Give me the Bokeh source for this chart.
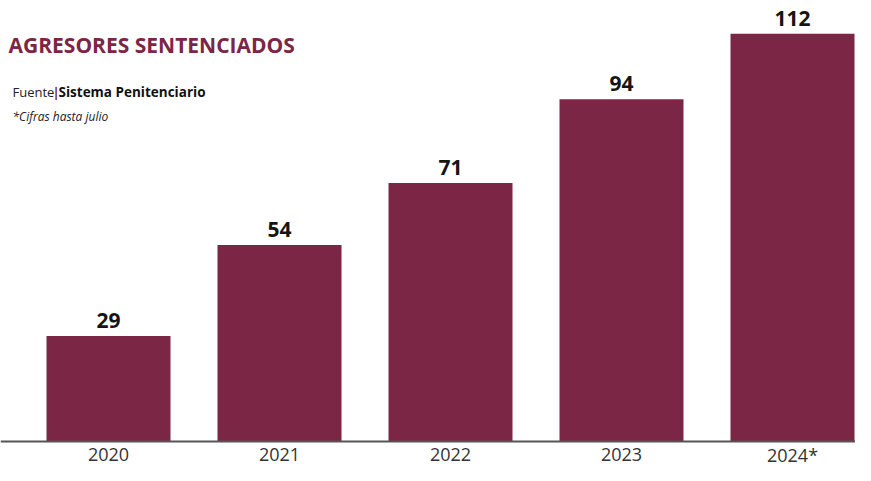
from bokeh.plotting import figure
from bokeh.models import ColumnDataSource, Label, Span, Range1d
from bokeh.embed import file_html
from bokeh.resources import INLINE
from bokeh.core.properties import value

years = ["2020", "2021", "2022", "2023", "2024*"]
counts = [29, 54, 71, 94, 112]
title_text = "AGRESORES SENTENCIADOS"
source_label = "Fuente"
source_name = "Sistema Penitenciario"
note_text = "*Cifras hasta julio"

W, H = 855, 465
step = 171.0          # px per category
first_center = 108.0  # px
baseline_px = 441.0   # px from top
ppu = 3.64            # px per unit

x0 = -first_center / step
x1 = (W - first_center) / step
y1 = baseline_px / ppu
y0 = -(H - baseline_px) / ppu

MAROON = "#7b2644"

xs = list(range(len(years)))
src = ColumnDataSource(dict(x=xs, top=counts, lbl=[str(c) for c in counts],
                            yr=years, zero=[0] * len(years)))

p = figure(width=W, height=H, output_backend="svg", toolbar_location=None,
           x_range=Range1d(x0, x1), y_range=Range1d(y0, y1),
           min_border_left=0, min_border_right=0, min_border_top=0,
           min_border_bottom=0)
p.outline_line_color = None
p.background_fill_color = "white"
p.border_fill_color = "white"
p.grid.visible = False
p.axis.visible = False

p.vbar(x="x", top="top", width=124 / step, bottom=0, source=src,
       fill_color=MAROON, line_color=None)
p.text(x="x", y="top", text="lbl", source=src, text_align="center",
       text_baseline="bottom", y_offset=-8, text_font=value("Open Sans"),
       text_font_style="bold", text_font_size="21px", text_color="#151515")

p.add_layout(Span(location=0, dimension="width", line_color="#555555",
                  line_width=2))
p.text(x="x", y="zero", text="yr", source=src, text_align="center",
       text_baseline="middle", y_offset=13, text_font=value("Open Sans"),
       text_font_size="18px", text_color="#333333")

def dx(px):
    return x0 + px / step

def dy(py):
    return (baseline_px - py) / ppu

p.add_layout(Label(x=dx(8), y=dy(44), text=title_text, text_font="Open Sans",
                   text_font_style="bold", text_font_size="21px",
                   text_color=MAROON, text_baseline="middle"))
p.add_layout(Label(x=dx(12), y=dy(91), text=source_label, text_font="Open Sans",
                   text_font_size="13px", text_color="#222222",
                   text_baseline="middle"))
p.add_layout(Label(x=dx(52), y=dy(91), text="|", text_font="Open Sans",
                   text_font_style="bold", text_font_size="13px",
                   text_color=MAROON, text_baseline="middle"))
p.add_layout(Label(x=dx(58), y=dy(91), text=source_name, text_font="Open Sans",
                   text_font_style="bold", text_font_size="13.5px",
                   text_color="#111111", text_baseline="middle"))
p.add_layout(Label(x=dx(12), y=dy(116), text=note_text, text_font="Open Sans",
                   text_font_style="italic", text_font_size="12px",
                   text_color="#222222", text_baseline="middle"))

open("out.html", "w").write(file_html(p, INLINE))
